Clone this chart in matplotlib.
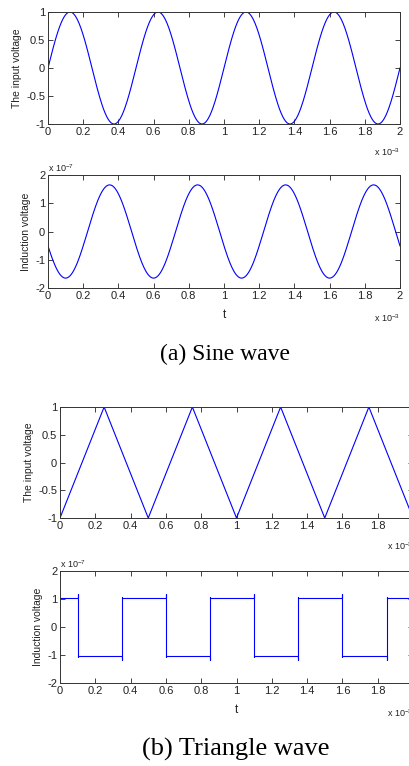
import numpy as np
import matplotlib
matplotlib.use('Agg')
import matplotlib.pyplot as plt

plt.rcParams['font.family'] = ['Liberation Sans', 'DejaVu Sans']
plt.rcParams['mathtext.fontset'] = 'custom'
plt.rcParams['mathtext.rm'] = 'Liberation Sans'
plt.rcParams['mathtext.it'] = 'Liberation Sans'

# ---- data ----
# (a) sine wave: input and induced voltage
sine_period = 0.5e-3          # s
sine_amp_in = 1.0
sine_amp_ind = 1.65e-7
sine_ind_peak = 0.35e-3       # time of first max of induction voltage

# (b) triangle wave: corner points (ms) and values
tri_t_ms = [0, 0.25, 0.5, 0.75, 1.0, 1.25, 1.5, 1.75, 2.0]
tri_v = [-1, 1, -1, 1, -1, 1, -1, 1, -1]

# induced square wave: edge times (ms), plateau level and spikes (x1e-7)
sq_edges_ms = [0.1, 0.35, 0.6, 0.85, 1.1, 1.35, 1.6, 1.85]
sq_level = 1.03
sq_fall_spike = [1.17, -1.08]   # top, bottom on a falling edge
sq_rise_spike = [-1.18, 1.07]   # bottom, top on a rising edge

x_ticks = [0, 0.2, 0.4, 0.6, 0.8, 1, 1.2, 1.4, 1.6, 1.8, 2]
x_ticklabels = ['0', '0.2', '0.4', '0.6', '0.8', '1', '1.2', '1.4', '1.6', '1.8', '2']

BLUE = '#0000ff'
TXT = '#222222'

W, H = 409, 766
fig = plt.figure(figsize=(W / 100, H / 100), dpi=100)


def make_ax(left, top, right, bottom):
    ax = fig.add_axes([left / W, 1 - bottom / H, (right - left) / W, (bottom - top) / H])
    ax.tick_params(direction='in', top=True, right=True, length=3.5, width=0.6,
                   labelsize=8, colors=TXT, pad=2)
    for s in ax.spines.values():
        s.set_linewidth(0.7)
        s.set_color('#333333')
    ax.set_xlim(0, 2)
    ax.set_xticks(x_ticks)
    ax.set_xticklabels(x_ticklabels)
    return ax


def ylabels(ax, text):
    ax.set_ylabel(text, fontsize=7.5, color=TXT, labelpad=3)


def xexp(ax, txt, dy=-0.25):
    ax.text(1.0, dy, txt, transform=ax.transAxes, ha='right', va='center',
            fontsize=6.5, color=TXT)


# ---- (a) sine ----
t = np.linspace(0, 2e-3, 801)
ax1 = make_ax(48, 12, 400, 124)
ax1.plot(t * 1e3, sine_amp_in * np.sin(2 * np.pi * t / sine_period), color=BLUE, lw=0.8)
ax1.set_ylim(-1, 1)
ax1.set_yticks([-1, -0.5, 0, 0.5, 1])
ax1.set_yticklabels(['-1', '-0.5', '0', '0.5', '1'])
ylabels(ax1, 'The input voltage')
xexp(ax1, r'x 10$^{-3}$', -0.25)

ax2 = make_ax(48, 175, 400, 288)
ind = sine_amp_ind * np.cos(2 * np.pi * (t - sine_ind_peak) / sine_period)
ax2.plot(t * 1e3, ind * 1e7, color=BLUE, lw=0.8)
ax2.set_ylim(-2, 2)
ax2.set_yticks([-2, -1, 0, 1, 2])
ax2.set_yticklabels(['-2', '-1', '0', '1', '2'])
ylabels(ax2, 'Induction voltage')
ax2.set_xlabel('t', fontsize=8.5, color=TXT, labelpad=6)
xexp(ax2, r'x 10$^{-3}$', -0.27)
ax2.text(0.0, 1.01, r'x 10$^{-7}$', transform=ax2.transAxes, ha='left', va='bottom',
         fontsize=6.5, color=TXT)

fig.text(225 / W, 1 - 354 / H, '(a) Sine wave', ha='center', va='center',
         fontsize=17, family='Liberation Serif')

# ---- (b) triangle ----
ax3 = make_ax(60, 407, 413, 518)
ax3.plot(tri_t_ms, tri_v, color=BLUE, lw=0.8)
ax3.set_ylim(-1, 1)
ax3.set_yticks([-1, -0.5, 0, 0.5, 1])
ax3.set_yticklabels(['-1', '-0.5', '0', '0.5', '1'])
ylabels(ax3, 'The input voltage')
xexp(ax3, r'x 10$^{-3}$', -0.25)

# build the square wave path from the edges
sq_t = [0.0]
sq_y = [sq_level]
for i, e in enumerate(sq_edges_ms):
    if i % 2 == 0:
        sq_t += [e, e, e, e]
        sq_y += [sq_level, sq_fall_spike[0], sq_fall_spike[1], -sq_level]
    else:
        sq_t += [e, e, e, e]
        sq_y += [-sq_level, sq_rise_spike[0], sq_rise_spike[1], sq_level]
sq_t.append(2.0)
sq_y.append(sq_level)

ax4 = make_ax(60, 571, 413, 683)
ax4.plot(sq_t, sq_y, color=BLUE, lw=0.8)
ax4.set_ylim(-2, 2)
ax4.set_yticks([-2, -1, 0, 1, 2])
ax4.set_yticklabels(['-2', '-1', '0', '1', '2'])
ylabels(ax4, 'Induction voltage')
ax4.set_xlabel('t', fontsize=8.5, color=TXT, labelpad=6)
xexp(ax4, r'x 10$^{-3}$', -0.27)
ax4.text(0.0, 1.01, r'x 10$^{-7}$', transform=ax4.transAxes, ha='left', va='bottom',
         fontsize=6.5, color=TXT)

fig.text(236 / W, 1 - 749 / H, '(b) Triangle wave', ha='center', va='center',
         fontsize=19, family='Liberation Serif')

fig.savefig('out.png', dpi=100)
